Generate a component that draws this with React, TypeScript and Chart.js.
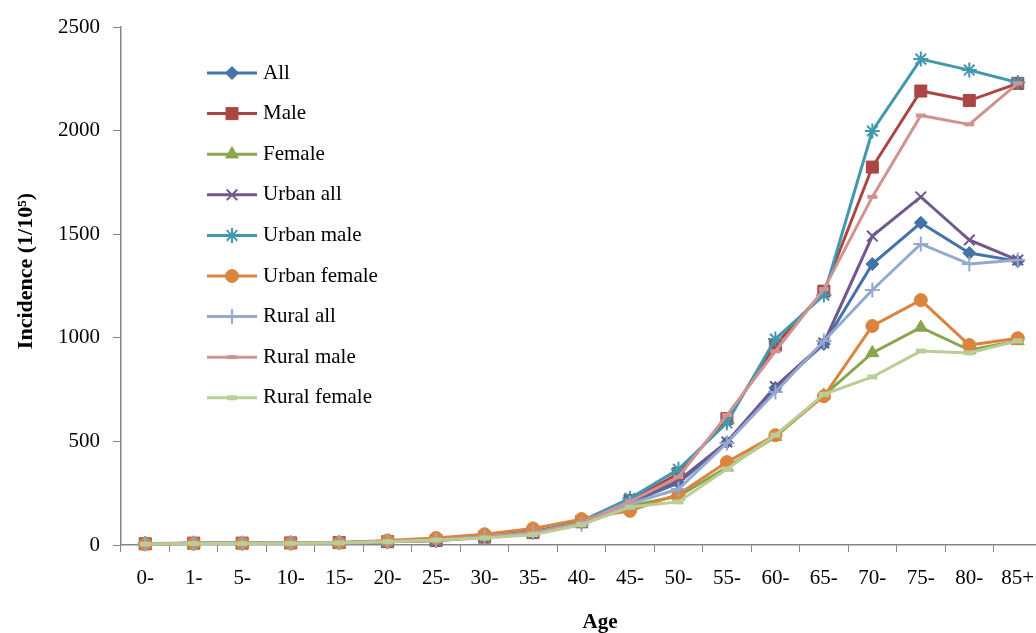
import React, { useEffect, useRef } from 'react';
import { Chart, registerables } from 'chart.js';
import { drawPoint } from 'chart.js/helpers';

Chart.register(...registerables);

const ageGroups = ['0-', '1-', '5-', '10-', '15-', '20-', '25-', '30-', '35-', '40-', '45-', '50-', '55-', '60-', '65-', '70-', '75-', '80-', '85+'];

const allValues = [5, 8, 8, 9, 11, 17, 25, 42, 62, 108, 205, 300, 495, 758, 970, 1356, 1555, 1409, 1370];
const maleValues = [6, 9, 9, 10, 12, 16, 22, 38, 60, 112, 215, 345, 610, 965, 1225, 1824, 2191, 2145, 2228];
const femaleValues = [4, 7, 7, 8, 10, 18, 28, 45, 65, 105, 190, 235, 375, 522, 722, 927, 1050, 941, 985];
const urbanAllValues = [5, 8, 9, 9, 11, 17, 26, 43, 64, 110, 208, 310, 497, 765, 975, 1491, 1680, 1472, 1375];
const urbanMaleValues = [7, 9, 9, 10, 12, 16, 22, 38, 60, 115, 225, 365, 590, 994, 1206, 1998, 2345, 2292, 2232];
const urbanFemaleValues = [4, 8, 8, 9, 11, 22, 34, 52, 80, 125, 165, 245, 400, 530, 718, 1057, 1182, 965, 998];
const ruralAllValues = [5, 8, 8, 9, 11, 17, 24, 40, 60, 100, 200, 270, 492, 738, 985, 1231, 1453, 1356, 1375];
const ruralMaleValues = [6, 9, 9, 10, 12, 16, 21, 36, 58, 108, 210, 328, 627, 935, 1235, 1680, 2073, 2030, 2228];
const ruralFemaleValues = [4, 7, 7, 8, 10, 16, 24, 34, 50, 98, 183, 208, 367, 530, 727, 811, 936, 927, 985];

const seriesNames = ['All', 'Male', 'Female', 'Urban all', 'Urban male', 'Urban female', 'Rural all', 'Rural male', 'Rural female'];
const seriesValues = [allValues, maleValues, femaleValues, urbanAllValues, urbanMaleValues, urbanFemaleValues, ruralAllValues, ruralMaleValues, ruralFemaleValues];
const seriesColors = ['#4572A7', '#AA4643', '#89A54E', '#71588F', '#4198AF', '#DB843D', '#93A9CF', '#D19392', '#B9CD96'];

const seriesMarkers = [
  { style: 'rectRot', radius: 6.5, borderWidth: 1 },
  { style: 'rect', radius: 8.5, borderWidth: 1 },
  { style: 'triangle', radius: 7.5, borderWidth: 1 },
  { style: 'crossRot', radius: 7.5, borderWidth: 2 },
  { style: 'star', radius: 7.5, borderWidth: 2 },
  { style: 'circle', radius: 6.5, borderWidth: 1 },
  { style: 'cross', radius: 7.5, borderWidth: 2 },
  { style: 'line', radius: 5, borderWidth: 4 },
  { style: 'line', radius: 5, borderWidth: 5 },
];

const yMin = 0;
const yMax = 2500;
const yStep = 500;

const xTitle = 'Age';
const yTitle = 'Incidence (1/10\u2075)';

const FONT = '"Liberation Serif", "Times New Roman", serif';
const AXIS_COLOR = '#868686';

const CANVAS_W = 1052;
const CANVAS_H = 633;

const legendLayout = { lineX0: 207, lineX1: 257, textX: 263, top: 73, step: 40.6 };

const overlayPlugin = {
  id: 'overlay',
  afterDraw(chart: any) {
    const ctx = chart.ctx as CanvasRenderingContext2D;
    ctx.save();
    seriesNames.forEach((name, i) => {
      const y = legendLayout.top + i * legendLayout.step;
      const color = seriesColors[i];
      const m = seriesMarkers[i];
      ctx.strokeStyle = color;
      ctx.lineWidth = 3;
      ctx.beginPath();
      ctx.moveTo(legendLayout.lineX0, y);
      ctx.lineTo(legendLayout.lineX1, y);
      ctx.stroke();
      ctx.fillStyle = color;
      ctx.strokeStyle = color;
      ctx.lineWidth = m.borderWidth;
      drawPoint(ctx, { pointStyle: m.style, radius: m.radius, rotation: 0, borderWidth: m.borderWidth } as any, (legendLayout.lineX0 + legendLayout.lineX1) / 2, y);
      ctx.fillStyle = '#000';
      ctx.font = `21px ${FONT}`;
      ctx.textAlign = 'left';
      ctx.textBaseline = 'middle';
      ctx.fillText(name, legendLayout.textX, y);
    });
    // axis titles
    ctx.fillStyle = '#000';
    ctx.font = `bold 21px ${FONT}`;
    ctx.textAlign = 'center';
    ctx.textBaseline = 'middle';
    ctx.fillText(xTitle, 600, 623);
    ctx.font = `bold 22px ${FONT}`;
    ctx.translate(26, 271);
    ctx.rotate(-Math.PI / 2);
    ctx.fillText(yTitle, 0, 0);
    ctx.restore();
  },
};

export default function App() {
  const canvasRef = useRef<HTMLCanvasElement | null>(null);

  useEffect(() => {
    const canvas = canvasRef.current;
    if (!canvas) return;
    const datasets = seriesNames.map((name, i) => ({
      label: name,
      data: seriesValues[i],
      borderColor: seriesColors[i],
      backgroundColor: seriesColors[i],
      borderWidth: 3,
      pointStyle: seriesMarkers[i].style as any,
      pointRadius: seriesMarkers[i].radius,
      pointBorderWidth: seriesMarkers[i].borderWidth,
      pointBackgroundColor: seriesColors[i],
      pointBorderColor: seriesColors[i],
      tension: 0,
      clip: false as any,
      order: seriesNames.length - 1 - i,
    }));
    const chart = new Chart(canvas, {
      type: 'line',
      data: { labels: ageGroups, datasets },
      plugins: [overlayPlugin],
      options: {
        animation: false,
        responsive: false,
        devicePixelRatio: window.devicePixelRatio || 1,
        layout: { padding: { top: 27, right: 8.4, left: 0, bottom: 0 } },
        plugins: {
          legend: { display: false },
          tooltip: { enabled: false },
          title: { display: false },
        },
        scales: {
          x: {
            type: 'category',
            offset: true,
            grid: {
              offset: true,
              drawOnChartArea: false,
              drawTicks: true,
              tickLength: 7,
              color: AXIS_COLOR,
            },
            border: { display: true, color: AXIS_COLOR, width: 1.5 },
            ticks: {
              color: '#000',
              font: { family: FONT, size: 21 },
              padding: 14,
              maxRotation: 0,
              autoSkip: false,
            },
            afterFit: (scale: any) => {
              scale.height = 88;
            },
          },
          y: {
            min: yMin,
            max: yMax,
            grid: {
              drawOnChartArea: false,
              drawTicks: true,
              tickLength: 8,
              color: AXIS_COLOR,
            },
            border: { display: true, color: AXIS_COLOR, width: 1.5 },
            ticks: {
              stepSize: yStep,
              color: '#000',
              font: { family: FONT, size: 21 },
              padding: 13,
              callback: (value: any) => String(value),
            },
            afterFit: (scale: any) => {
              scale.width = 121;
            },
          },
        },
      },
    });
    return () => chart.destroy();
  }, []);

  return (
    <div style={{ position: 'fixed', left: 0, top: 0, width: 1036, height: 633, overflow: 'hidden', background: '#fff' }}>
      <canvas ref={canvasRef} width={CANVAS_W} height={CANVAS_H} style={{ width: CANVAS_W, height: CANVAS_H, display: 'block' }} />
    </div>
  );
}
